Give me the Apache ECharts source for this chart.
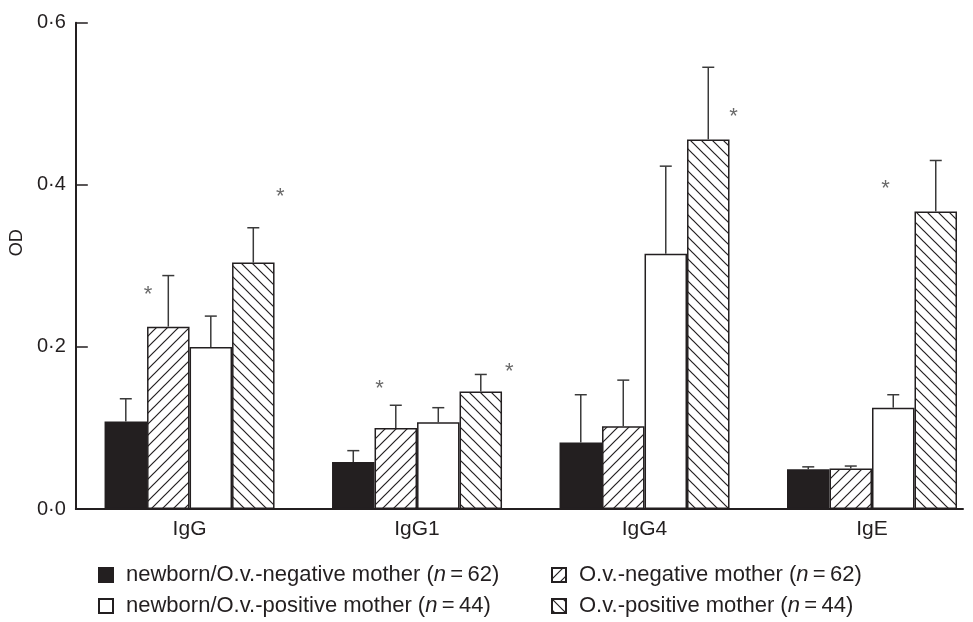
<!DOCTYPE html>
<html>
<head>
<meta charset="utf-8">
<script src="https://cdn.jsdelivr.net/npm/echarts@6/dist/echarts.min.js"></script>
<style>
html,body{margin:0;padding:0;background:#fff;}
#c{width:973px;height:622px;}
</style>
</head>
<body>
<div id="c"></div>
<script>
// ---- data ----
const categories = ['IgG', 'IgG1', 'IgG4', 'IgE'];
const seriesNames = [
  'newborn/O.v.-negative mother (n=62)',
  'O.v.-negative mother (n=62)',
  'newborn/O.v.-positive mother (n=44)',
  'O.v.-positive mother (n=44)'
];
const newbornNeg = [0.108, 0.058, 0.082, 0.049];
const motherNeg  = [0.225, 0.100, 0.102, 0.050];
const newbornPos = [0.200, 0.107, 0.315, 0.125];
const motherPos  = [0.304, 0.145, 0.456, 0.367];
const newbornNegErr = [0.028, 0.014, 0.059, 0.003];
const motherNegErr  = [0.063, 0.028, 0.057, 0.003];
const newbornPosErr = [0.038, 0.018, 0.108, 0.016];
const motherPosErr  = [0.043, 0.021, 0.089, 0.063];
// significance marks: [category index + offset, y value]
const stars = [[-0.183, 0.272], [0.399, 0.393], [0.835, 0.155], [1.405, 0.176], [2.391, 0.491], [3.06, 0.402]];
const yTicks = [0, 0.2, 0.4, 0.6];

// ---- styling ----
const INK = '#231f20';
const BAR_W = 42.5;
const FONT = '"Liberation Sans", Arial, Helvetica, sans-serif';

function hatch(dir) {
  const s = 11;
  const cv = document.createElement('canvas');
  cv.width = s; cv.height = s;
  const ctx = cv.getContext('2d');
  ctx.fillStyle = '#fff';
  ctx.fillRect(0, 0, s, s);
  ctx.strokeStyle = INK;
  ctx.lineWidth = 1.2;
  ctx.beginPath();
  if (dir === 'asc') {
    ctx.moveTo(-2, s + 2); ctx.lineTo(s + 2, -2);
    ctx.moveTo(-2, 2); ctx.lineTo(2, -2);
    ctx.moveTo(s - 2, s + 2); ctx.lineTo(s + 2, s - 2);
  } else {
    ctx.moveTo(-2, -2); ctx.lineTo(s + 2, s + 2);
    ctx.moveTo(s - 2, -2); ctx.lineTo(s + 2, 2);
    ctx.moveTo(-2, s - 2); ctx.lineTo(2, s + 2);
  }
  ctx.stroke();
  return { image: cv, repeat: 'repeat' };
}

const values = [newbornNeg, motherNeg, newbornPos, motherPos];
const errs = [newbornNegErr, motherNegErr, newbornPosErr, motherPosErr];
const fills = [INK, hatch('asc'), '#ffffff', hatch('desc')];

const barSeries = values.map((arr, si) => ({
  name: seriesNames[si],
  type: 'bar',
  barWidth: BAR_W,
  barGap: '0%',
  data: arr.map((v, ci) => [ci, v]),
  itemStyle: { color: fills[si], borderColor: INK, borderWidth: 1.5 },
  emphasis: { disabled: true },
  z: 2
}));

const errData = [];
values.forEach((arr, si) => arr.forEach((v, ci) => errData.push([ci, si, v, errs[si][ci]])));

const errSeries = {
  type: 'custom',
  data: errData,
  z: 3,
  silent: true,
  renderItem: function (params, api) {
    const ci = api.value(0), si = api.value(1), m = api.value(2), e = api.value(3);
    const b = api.coord([ci, m]);
    const t = api.coord([ci, m + e]);
    const x = b[0] + (si - 1.5) * BAR_W;
    const st = { stroke: '#3a3a3a', lineWidth: 1.5 };
    return {
      type: 'group',
      children: [
        { type: 'line', shape: { x1: x, y1: b[1], x2: x, y2: t[1] }, style: st },
        { type: 'line', shape: { x1: x - 6, y1: t[1], x2: x + 6, y2: t[1] }, style: st }
      ]
    };
  }
};

const starSeries = {
  type: 'scatter',
  data: stars,
  symbolSize: 1,
  itemStyle: { color: 'rgba(0,0,0,0)' },
  silent: true,
  label: {
    show: true, position: 'inside', formatter: '*',
    fontSize: 22, color: '#444', fontFamily: FONT, offset: [0, 6]
  },
  z: 4
};

function legendAt(name, left, top) {
  return {
    data: [{ name: name, icon: 'rect' }],
    left: left, top: top,
    itemWidth: 14, itemHeight: 14, itemGap: 0,
    selectedMode: false,
    textStyle: {
      fontFamily: FONT, fontSize: 22, color: INK, padding: [0, 0, 0, 8],
      rich: { i: { fontFamily: FONT, fontSize: 22, color: INK, fontStyle: 'italic' } }
    },
    formatter: function (n) { return n.replace(/\(n=(\d+)\)/, '({i|n}\u2009=\u2009$1)'); }
  };
}

const chart = echarts.init(document.getElementById('c'), null, { renderer: 'canvas' });
chart.setOption({
  animation: false,
  backgroundColor: '#fff',
  textStyle: { fontFamily: FONT },
  grid: { left: 73, right: 10, top: 22.7, bottom: 113 },
  legend: [
    legendAt(seriesNames[0], 93, 559),
    legendAt(seriesNames[1], 546, 559),
    legendAt(seriesNames[2], 93, 590),
    legendAt(seriesNames[3], 546, 590)
  ],
  xAxis: {
    type: 'value',
    min: -0.5, max: 3.4,
    splitLine: { show: false },
    axisTick: { show: false },
    axisLine: { show: true, onZero: false, lineStyle: { color: INK, width: 2 } },
    axisLabel: {
      customValues: [0, 1, 2, 3],
      formatter: function (v) { return categories[Math.round(v)]; },
      fontSize: 21, color: INK, margin: 10, fontFamily: FONT
    }
  },
  yAxis: {
    type: 'value',
    min: 0, max: 0.6, interval: 0.2,
    name: 'OD', nameLocation: 'middle', nameGap: 37, nameRotate: 90,
    nameTextStyle: { fontSize: 18, color: INK, fontFamily: FONT, padding: [0, 0, 0, 46] },
    splitLine: { show: false },
    axisLine: { show: true, onZero: false, lineStyle: { color: INK, width: 2 } },
    axisTick: { show: true, inside: true, length: 12, lineStyle: { color: INK, width: 1.5 } },
    axisLabel: {
      customValues: yTicks,
      formatter: function (v) { return v.toFixed(1).replace('.', '\u00b7'); },
      fontSize: 20, color: INK, margin: 10, fontFamily: FONT
    }
  },
  series: barSeries.concat([errSeries, starSeries])
});
</script>
</body>
</html>
